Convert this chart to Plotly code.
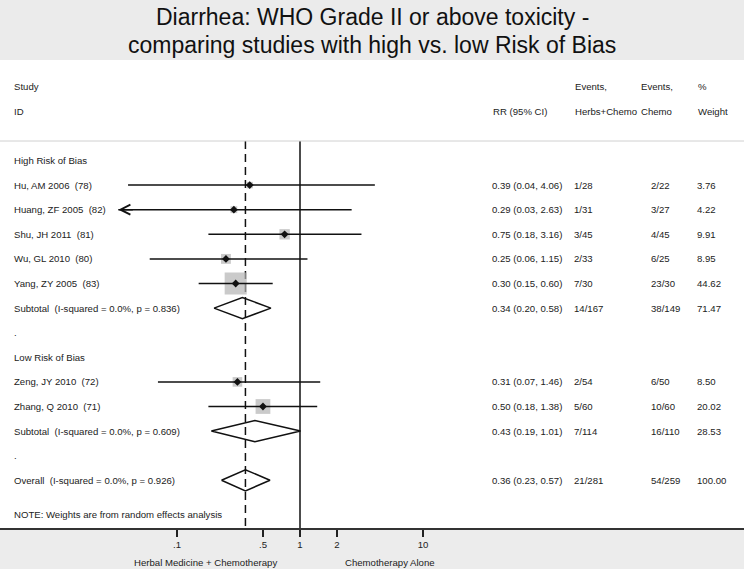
import numpy as np
import plotly.graph_objects as go

# ---- data ----
study_ids = ["Hu, AM 2006\u00a0 (78)", "Huang, ZF 2005\u00a0 (82)", "Shu, JH 2011\u00a0 (81)",
             "Wu, GL 2010\u00a0 (80)", "Yang, ZY 2005\u00a0 (83)",
             "Zeng, JY 2010\u00a0 (72)", "Zhang, Q 2010\u00a0 (71)"]
study_group = ["high", "high", "high", "high", "high", "low", "low"]
rr = [0.39, 0.29, 0.75, 0.25, 0.30, 0.31, 0.50]
rr_lo = [0.04, 0.03, 0.18, 0.06, 0.15, 0.07, 0.18]
rr_hi = [4.06, 2.63, 3.16, 1.15, 0.60, 1.46, 1.38]
events_herbs = ["1/28", "1/31", "3/45", "2/33", "7/30", "2/54", "5/60"]
events_chemo = ["2/22", "3/27", "4/45", "6/25", "23/30", "6/50", "10/60"]
weight = [3.76, 4.22, 9.91, 8.95, 44.62, 8.50, 20.02]

pooled_labels = ["Subtotal\u00a0 (I-squared = 0.0%, p = 0.836)",
                 "Subtotal\u00a0 (I-squared = 0.0%, p = 0.609)",
                 "Overall\u00a0 (I-squared = 0.0%, p = 0.926)"]
pooled_rr = [0.34, 0.43, 0.36]
pooled_lo = [0.20, 0.19, 0.23]
pooled_hi = [0.58, 1.01, 0.57]
pooled_herbs = ["14/167", "7/114", "21/281"]
pooled_chemo = ["38/149", "16/110", "54/259"]
pooled_weight = [71.47, 28.53, 100.00]

group_titles = ["High Risk of Bias", "Low Risk of Bias"]
title_lines = ["Diarrhea: WHO Grade II or above toxicity -",
               "comparing studies with high vs. low Risk of Bias"]
tick_vals = [0.1, 0.5, 1, 2, 10]
tick_text = [".1", ".5", "1", "2", "10"]
x_min = 1 / 30  # lower end of the plotted scale, CIs beyond get an arrow

# ---- layout constants (pixels) ----
W, H = 744, 571
PX_ONE, PX_DEC = 300, 123          # x pixel of RR=1, pixels per decade
ROW0, ROW_H = 160.5, 24.6          # pixel of first row, row spacing
PLOT_TOP, PLOT_BOT = 61, 528
FONT = "Liberation Sans, Arial, sans-serif"
TXT = "#222222"
FS = 9.6
COL_ID, COL_RR, COL_EH, COL_EC, COL_W = 12, 490, 572, 649, 695

# row positions
high_rows = [1, 2, 3, 4, 5]
low_rows = [9, 10]
study_rows = high_rows + low_rows
pooled_rows = [6, 11, 13]
group_rows = [0, 8]
dot_rows = [7, 12]
note_row = 14.4

fig = go.Figure()

# vertical reference lines: RR = 1 and overall estimate
y_top = (141 - ROW0) / ROW_H
y_bot = (PLOT_BOT - ROW0) / ROW_H
fig.add_trace(go.Scatter(x=[1, 1], y=[y_top, y_bot], mode="lines",
                         line=dict(color="#111111", width=1.5), hoverinfo="skip"))
fig.add_trace(go.Scatter(x=[pooled_rr[2], pooled_rr[2]], y=[y_top, y_bot], mode="lines",
                         line=dict(color="#111111", width=1.5, dash="8px,5px"), hoverinfo="skip"))

# weight boxes
fig.add_trace(go.Scatter(x=rr, y=study_rows, mode="markers",
                         marker=dict(symbol="square", color="#b3b3b3",
                                     size=[3.3 * np.sqrt(w) for w in weight], line=dict(width=0)),
                         hoverinfo="skip"))

# confidence intervals
ci_x, ci_y = [], []
for lo, hi, r in zip(rr_lo, rr_hi, study_rows):
    ci_x += [max(lo, x_min), hi, None]
    ci_y += [r, r, None]
fig.add_trace(go.Scatter(x=ci_x, y=ci_y, mode="lines",
                         line=dict(color="#111111", width=1.5), hoverinfo="skip"))

# point estimates
fig.add_trace(go.Scatter(x=rr, y=study_rows, mode="markers",
                         marker=dict(symbol="diamond", color="#111111", size=6),
                         hoverinfo="skip"))

# pooled diamonds
dh = 0.43
for est, lo, hi, r in zip(pooled_rr, pooled_lo, pooled_hi, pooled_rows):
    fig.add_trace(go.Scatter(x=[lo, est, hi, est, lo], y=[r, r - dh, r, r + dh, r],
                             mode="lines", line=dict(color="#111111", width=1.5),
                             hoverinfo="skip"))

ann = []


def txt(text, px, row, size=FS, xanchor="left"):
    ann.append(dict(text=text, x=px / W, xref="paper", y=row, yref="y",
                    xanchor=xanchor, yanchor="middle", showarrow=False,
                    font=dict(family=FONT, size=size, color=TXT)))


# title
for line, py in zip(title_lines, [17, 45]):
    ann.append(dict(text=line, x=0.5, xref="paper", y=1 - py / H, yref="paper",
                    xanchor="center", yanchor="middle", showarrow=False,
                    font=dict(family=FONT, size=23, color="#111111")))

# headers
txt("Study", COL_ID, -3)
txt("ID", COL_ID, -2)
txt("RR (95% CI)", COL_RR + 1, -2)
txt("Events,", COL_EH + 1, -3)
txt("Herbs+Chemo", COL_EH + 1, -2)
txt("Events,", COL_EC - 10, -3)
txt("Chemo", COL_EC - 10, -2)
txt("%", COL_W + 1, -3)
txt("Weight", COL_W + 1, -2)

for g, r in zip(group_titles, group_rows):
    txt(g, COL_ID, r)
for r in dot_rows:
    txt(".", COL_ID, r)

for i, r in enumerate(study_rows):
    txt(study_ids[i], COL_ID, r)
    txt(f"{rr[i]:.2f} ({rr_lo[i]:.2f}, {rr_hi[i]:.2f})", COL_RR, r)
    txt(events_herbs[i], COL_EH, r)
    txt(events_chemo[i], COL_EC, r)
    txt(f"{weight[i]:.2f}", COL_W, r)

for i, r in enumerate(pooled_rows):
    txt(pooled_labels[i], COL_ID, r)
    txt(f"{pooled_rr[i]:.2f} ({pooled_lo[i]:.2f}, {pooled_hi[i]:.2f})", COL_RR, r)
    txt(pooled_herbs[i], COL_EH, r)
    txt(pooled_chemo[i], COL_EC, r)
    txt(f"{pooled_weight[i]:.2f}", COL_W, r)

txt("NOTE: Weights are from random effects analysis", COL_ID, note_row)

# arrow for CI running off the left of the scale
for lo, r in zip(rr_lo, study_rows):
    if lo < x_min:
        ann.append(dict(x=np.log10(x_min), y=r, xref="x", yref="y", text="",
                        showarrow=True, ax=16, ay=0, arrowhead=5, arrowsize=1.3,
                        arrowwidth=1.5, arrowcolor="#111111"))

# axis captions
for text, px in [("Herbal Medicine + Chemotherapy", 206), ("Chemotherapy Alone", 390)]:
    ann.append(dict(text=text, x=px / W, xref="paper", y=1 - 562 / H, yref="paper",
                    xanchor="center", yanchor="middle", showarrow=False,
                    font=dict(family=FONT, size=FS, color=TXT)))

shapes = [
    dict(type="rect", xref="paper", yref="paper", x0=0, x1=1, y0=1 - 60 / H, y1=1,
         fillcolor="#ebebeb", line=dict(width=0), layer="below"),
    dict(type="rect", xref="paper", yref="paper", x0=0, x1=1, y0=1 - 569 / H, y1=1 - PLOT_BOT / H,
         fillcolor="#ececec", line=dict(width=0), layer="below"),
    dict(type="line", xref="paper", yref="paper", x0=0, x1=1, y0=1 - 141 / H, y1=1 - 141 / H,
         line=dict(color="#d0d0d0", width=1)),
]

fig.update_layout(
    width=W, height=H, margin=dict(l=0, r=0, t=0, b=0),
    paper_bgcolor="white", plot_bgcolor="white", showlegend=False,
    xaxis=dict(type="log", range=[-PX_ONE / PX_DEC, (W - PX_ONE) / PX_DEC],
               tickvals=tick_vals, ticktext=tick_text, ticks="outside", ticklen=7,
               tickwidth=1.5, tickcolor="#222222", showline=True, linecolor="#333333",
               linewidth=1.5, showgrid=False, zeroline=False,
               tickfont=dict(family=FONT, size=FS, color=TXT)),
    yaxis=dict(domain=[1 - PLOT_BOT / H, 1 - PLOT_TOP / H],
               range=[(PLOT_BOT - ROW0) / ROW_H, (PLOT_TOP - ROW0) / ROW_H],
               visible=False),
    annotations=ann, shapes=shapes,
)

# drop the default page margin so the figure sits at the window's corner
fig.write_html("out.html", config={"displayModeBar": False},
               post_script="document.body.style.margin='0px';")
